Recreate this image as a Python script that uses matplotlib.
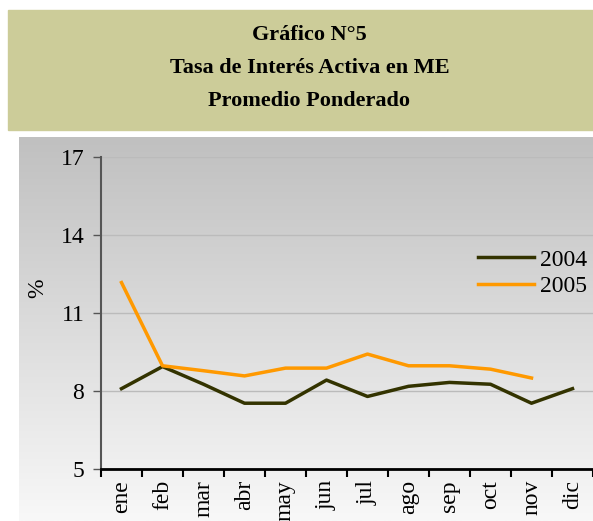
import numpy as np
import matplotlib
matplotlib.use("Agg")
from matplotlib import pyplot as plt
from matplotlib.patches import Rectangle

meses = ["ene", "feb", "mar", "abr", "may", "jun", "jul", "ago", "sep", "oct", "nov", "dic"]
tasa_2004 = [8.09, 8.94, 8.26, 7.53, 7.53, 8.42, 7.79, 8.18, 8.33, 8.26, 7.53, 8.09]
tasa_2005 = [12.17, 8.97, 8.78, 8.58, 8.88, 8.88, 9.42, 8.97, 8.97, 8.84, 8.50]
y_ticks = [5, 8, 11, 14, 17]
titulo = "Gráfico N°5\nTasa de Interés Activa en ME\nPromedio Ponderado"

plt.rcParams['font.family'] = ['Liberation Serif', 'DejaVu Serif']

W, H = 593, 521
fig = plt.figure(figsize=(W / 100, H / 100), dpi=100)

# fondo: caja del titulo y zona gris con degradado
bg = fig.add_axes([0, 0, 1, 1])
bg.set_xlim(0, W)
bg.set_ylim(H, 0)
bg.axis("off")
bg.add_patch(Rectangle((8, 10), W - 8, 120, color="#CCCC99", zorder=0))
grad = np.linspace(0, 1, 256).reshape(-1, 1)
cmap = matplotlib.colors.LinearSegmentedColormap.from_list("g", ["#C0C0C0", "#F8F8F8"])
bg.imshow(grad, extent=(19, W, H, 137), cmap=cmap, aspect="auto", zorder=0)
bg.text(W / 2 + 13, 68, titulo, ha="center", va="center", fontsize=16,
        fontweight="bold", linespacing=1.9)

# grafico
ax = fig.add_axes([101 / W, 1 - 469 / H, (W - 101) / W, (469 - 157) / H])
ax.patch.set_alpha(0)
x = np.arange(len(meses))
ax.plot(x, tasa_2004, color="#333300", lw=2.5, label="2004")
ax.plot(x[:len(tasa_2005)], tasa_2005, color="#FF9900", lw=2.5, label="2005")

ax.set_xlim(-0.5, len(meses) - 0.5)
ax.set_ylim(5, 17)
ax.set_yticks(y_ticks)
ax.set_xticks(x)
ax.set_xticklabels(meses, rotation=90, fontsize=17)
ax.set_xticks(np.arange(-0.5, len(meses) + 0.5, 1), minor=True)
ax.tick_params(axis="x", which="major", length=0, pad=8)
ax.tick_params(axis="x", which="minor", length=6, width=1.5, direction="out")
ax.tick_params(axis="y", labelsize=17, length=6, width=1, color="#555555", pad=6)
ax.grid(axis="y", color="#BBBBBB", lw=1)
for s in ["top", "right"]:
    ax.spines[s].set_visible(False)
ax.spines["left"].set_color("#555555")
ax.spines["left"].set_linewidth(1.5)
ax.spines["bottom"].set_linewidth(2)
ax.set_ylabel("%", fontsize=17)
ax.yaxis.set_label_coords(-0.108, 0.58)

ax.legend(loc="upper left", bbox_to_anchor=(0.748, 0.735), frameon=False, fontsize=17,
          handlelength=2.37, handletextpad=0.25, labelspacing=0.2, borderaxespad=0)

fig.savefig("out.png", dpi=100)
